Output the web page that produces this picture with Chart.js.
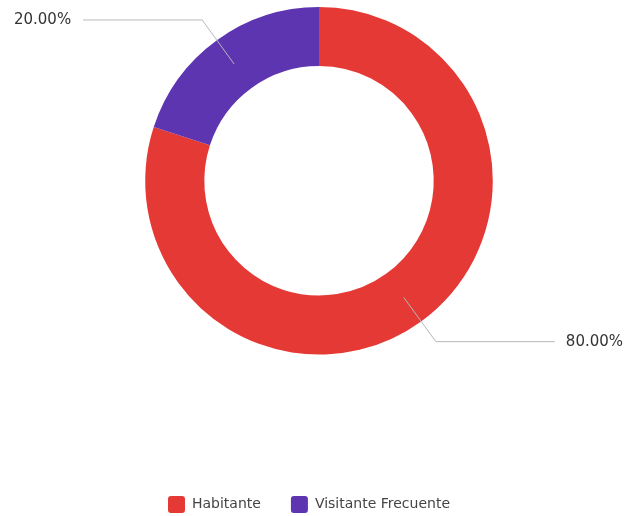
<!DOCTYPE html>
<html>
<head>
<meta charset="utf-8">
<script src="https://cdn.jsdelivr.net/npm/chart.js@4"></script>
<style>
  html, body { margin: 0; padding: 0; background: #fff; }
  #wrap { width: 624px; height: 516px; }
</style>
</head>
<body>
<div id="wrap"><canvas id="donutChart"></canvas></div>
<script>
// Chart data
const categories = ['Habitante', 'Visitante Frecuente'];
const shares = [80, 20];
const sliceColors = ['#E53935', '#5E35B1'];

const FONT = '"DejaVu Sans", sans-serif';

// Nudge the ring a little to the right of the legend's centre line
const plotShift = {
    id: 'plotShift',
    afterLayout(chart) {
        chart.chartArea.left += 10;
        chart.chartArea.right += 10;
    }
};

// Draws a leader line from the middle of each slice out to its percentage label
const leaderLabels = {
    id: 'leaderLabels',
    afterDatasetsDraw(chart) {
        const ctx = chart.ctx;
        const meta = chart.getDatasetMeta(0);
        const total = shares.reduce((a, b) => a + b, 0);

        meta.data.forEach((arc, i) => {
            const p = arc.getProps(['x', 'y', 'startAngle', 'endAngle', 'innerRadius', 'outerRadius'], true);
            const mid = (p.startAngle + p.endAngle) / 2;
            const rStart = (p.innerRadius + p.outerRadius) / 2;
            const rElbow = p.outerRadius + 25;
            const sx = p.x + Math.cos(mid) * rStart;
            const sy = p.y + Math.sin(mid) * rStart;
            const ex = p.x + Math.cos(mid) * rElbow;
            const ey = p.y + Math.sin(mid) * rElbow;
            const right = Math.cos(mid) >= 0;
            const hx = ex + (right ? 119 : -119);

            ctx.save();
            ctx.strokeStyle = '#b8b8b8';
            ctx.lineWidth = 1;
            ctx.beginPath();
            ctx.moveTo(sx, sy);
            ctx.lineTo(ex, ey);
            ctx.lineTo(hx, ey);
            ctx.stroke();

            const pct = (shares[i] / total * 100).toFixed(2) + '%';
            ctx.fillStyle = '#333';
            ctx.font = '15px ' + FONT;
            ctx.textBaseline = 'middle';
            ctx.textAlign = right ? 'left' : 'right';
            ctx.fillText(pct, hx + (right ? 11 : -12), ey);
            ctx.restore();
        });
    }
};

new Chart(document.getElementById('donutChart'), {
    type: 'doughnut',
    data: {
        labels: categories,
        datasets: [{
            data: shares,
            backgroundColor: sliceColors,
            borderWidth: 0,
            hoverOffset: 0
        }]
    },
    options: {
        responsive: true,
        maintainAspectRatio: false,
        animation: false,
        cutout: '66%',
        layout: {
            padding: { top: 7, bottom: -7, left: 0, right: 6 }
        },
        plugins: {
            tooltip: { enabled: false },
            legend: {
                position: 'bottom',
                title: {
                    display: true,
                    text: '',
                    padding: { top: 0, bottom: 97 }
                },
                labels: {
                    boxWidth: 17,
                    boxHeight: 17,
                    useBorderRadius: true,
                    borderRadius: 3,
                    padding: 30,
                    color: '#444',
                    font: { family: FONT, size: 14 }
                }
            }
        }
    },
    plugins: [plotShift, leaderLabels]
});
</script>
</body>
</html>
